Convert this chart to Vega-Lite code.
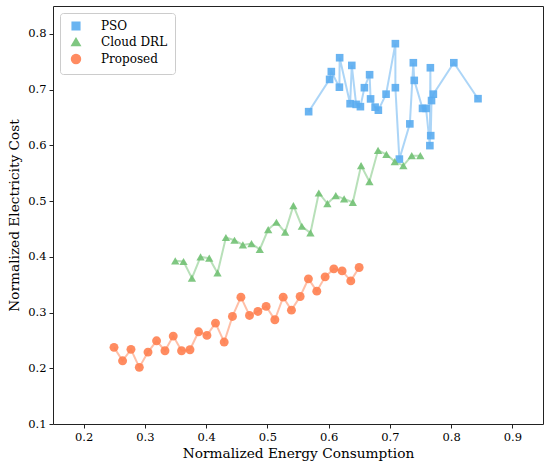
{
  "$schema": "https://vega.github.io/schema/vega-lite/v6.json",
  "autosize": {"type": "none"},
  "width": 490,
  "height": 418,
  "padding": {"left": 53, "top": 6, "right": 7, "bottom": 46},
  "config": {
    "font": "DejaVu Serif",
    "view": {"stroke": "#222", "strokeWidth": 1},
    "axis": {"grid": false, "domain": false, "tickColor": "#222", "tickSize": 4, "labelColor": "#000", "titleColor": "#000", "labelFontSize": 11.5, "titleFontSize": 13.7, "titleFontWeight": "normal", "labelPadding": 3},
    "legend": {"title": null, "orient": "top-left", "offset": 7, "padding": 7,
               "fillColor": "white", "strokeColor": "#ccc", "cornerRadius": 3,
               "labelFontSize": 12, "labelFontWeight": "normal", "labelColor": "#000", "symbolOffset": 3, "labelOffset": 19,
               "rowPadding": 2, "symbolSize": 60, "symbolOpacity": 0.9}
  },
  "data": {"values": [
    {"series": "PSO", "i": 1, "x": 0.5674, "y": 0.6604},
    {"series": "PSO", "i": 2, "x": 0.6016, "y": 0.7183},
    {"series": "PSO", "i": 3, "x": 0.6044, "y": 0.7323},
    {"series": "PSO", "i": 4, "x": 0.6176, "y": 0.7043},
    {"series": "PSO", "i": 5, "x": 0.6180, "y": 0.7572},
    {"series": "PSO", "i": 6, "x": 0.6351, "y": 0.6747},
    {"series": "PSO", "i": 7, "x": 0.6378, "y": 0.7434},
    {"series": "PSO", "i": 8, "x": 0.6449, "y": 0.6735},
    {"series": "PSO", "i": 9, "x": 0.6519, "y": 0.6694},
    {"series": "PSO", "i": 10, "x": 0.6584, "y": 0.7034},
    {"series": "PSO", "i": 11, "x": 0.6669, "y": 0.7267},
    {"series": "PSO", "i": 12, "x": 0.6685, "y": 0.6833},
    {"series": "PSO", "i": 13, "x": 0.6759, "y": 0.6685},
    {"series": "PSO", "i": 14, "x": 0.6812, "y": 0.6631},
    {"series": "PSO", "i": 15, "x": 0.6938, "y": 0.6918},
    {"series": "PSO", "i": 16, "x": 0.7090, "y": 0.7824},
    {"series": "PSO", "i": 17, "x": 0.7090, "y": 0.7034},
    {"series": "PSO", "i": 18, "x": 0.7155, "y": 0.5753},
    {"series": "PSO", "i": 19, "x": 0.7326, "y": 0.6385},
    {"series": "PSO", "i": 20, "x": 0.7383, "y": 0.7482},
    {"series": "PSO", "i": 21, "x": 0.7398, "y": 0.7165},
    {"series": "PSO", "i": 22, "x": 0.7533, "y": 0.6663},
    {"series": "PSO", "i": 23, "x": 0.7591, "y": 0.6663},
    {"series": "PSO", "i": 24, "x": 0.7653, "y": 0.5995},
    {"series": "PSO", "i": 25, "x": 0.7661, "y": 0.7392},
    {"series": "PSO", "i": 26, "x": 0.7667, "y": 0.6174},
    {"series": "PSO", "i": 27, "x": 0.7680, "y": 0.6803},
    {"series": "PSO", "i": 28, "x": 0.7710, "y": 0.6918},
    {"series": "PSO", "i": 29, "x": 0.8044, "y": 0.7482},
    {"series": "PSO", "i": 30, "x": 0.8439, "y": 0.6837},
    {"series": "Cloud DRL", "i": 1, "x": 0.3496, "y": 0.3927},
    {"series": "Cloud DRL", "i": 2, "x": 0.3631, "y": 0.3916},
    {"series": "Cloud DRL", "i": 3, "x": 0.3768, "y": 0.3616},
    {"series": "Cloud DRL", "i": 4, "x": 0.3909, "y": 0.3998},
    {"series": "Cloud DRL", "i": 5, "x": 0.4051, "y": 0.3975},
    {"series": "Cloud DRL", "i": 6, "x": 0.4186, "y": 0.3711},
    {"series": "Cloud DRL", "i": 7, "x": 0.4323, "y": 0.4346},
    {"series": "Cloud DRL", "i": 8, "x": 0.4463, "y": 0.4297},
    {"series": "Cloud DRL", "i": 9, "x": 0.4600, "y": 0.4213},
    {"series": "Cloud DRL", "i": 10, "x": 0.4741, "y": 0.4238},
    {"series": "Cloud DRL", "i": 11, "x": 0.4876, "y": 0.4131},
    {"series": "Cloud DRL", "i": 12, "x": 0.5013, "y": 0.4489},
    {"series": "Cloud DRL", "i": 13, "x": 0.5148, "y": 0.4620},
    {"series": "Cloud DRL", "i": 14, "x": 0.5290, "y": 0.4441},
    {"series": "Cloud DRL", "i": 15, "x": 0.5425, "y": 0.4919},
    {"series": "Cloud DRL", "i": 16, "x": 0.5563, "y": 0.4548},
    {"series": "Cloud DRL", "i": 17, "x": 0.5703, "y": 0.4428},
    {"series": "Cloud DRL", "i": 18, "x": 0.5840, "y": 0.5145},
    {"series": "Cloud DRL", "i": 19, "x": 0.5980, "y": 0.4955},
    {"series": "Cloud DRL", "i": 20, "x": 0.6117, "y": 0.5099},
    {"series": "Cloud DRL", "i": 21, "x": 0.6253, "y": 0.5038},
    {"series": "Cloud DRL", "i": 22, "x": 0.6395, "y": 0.4978},
    {"series": "Cloud DRL", "i": 23, "x": 0.6530, "y": 0.5636},
    {"series": "Cloud DRL", "i": 24, "x": 0.6666, "y": 0.5350},
    {"series": "Cloud DRL", "i": 25, "x": 0.6807, "y": 0.5910},
    {"series": "Cloud DRL", "i": 26, "x": 0.6943, "y": 0.5839},
    {"series": "Cloud DRL", "i": 27, "x": 0.7080, "y": 0.5708},
    {"series": "Cloud DRL", "i": 28, "x": 0.7220, "y": 0.5636},
    {"series": "Cloud DRL", "i": 29, "x": 0.7357, "y": 0.5815},
    {"series": "Cloud DRL", "i": 30, "x": 0.7497, "y": 0.5815},
    {"series": "Proposed", "i": 1, "x": 0.2496, "y": 0.2375},
    {"series": "Proposed", "i": 2, "x": 0.2636, "y": 0.2134},
    {"series": "Proposed", "i": 3, "x": 0.2773, "y": 0.2339},
    {"series": "Proposed", "i": 4, "x": 0.2909, "y": 0.2016},
    {"series": "Proposed", "i": 5, "x": 0.3051, "y": 0.2290},
    {"series": "Proposed", "i": 6, "x": 0.3191, "y": 0.2493},
    {"series": "Proposed", "i": 7, "x": 0.3328, "y": 0.2314},
    {"series": "Proposed", "i": 8, "x": 0.3463, "y": 0.2577},
    {"series": "Proposed", "i": 9, "x": 0.3599, "y": 0.2314},
    {"series": "Proposed", "i": 10, "x": 0.3736, "y": 0.2332},
    {"series": "Proposed", "i": 11, "x": 0.3876, "y": 0.2654},
    {"series": "Proposed", "i": 12, "x": 0.4013, "y": 0.2590},
    {"series": "Proposed", "i": 13, "x": 0.4153, "y": 0.2810},
    {"series": "Proposed", "i": 14, "x": 0.4295, "y": 0.2470},
    {"series": "Proposed", "i": 15, "x": 0.4430, "y": 0.2930},
    {"series": "Proposed", "i": 16, "x": 0.4568, "y": 0.3276},
    {"series": "Proposed", "i": 17, "x": 0.4708, "y": 0.2948},
    {"series": "Proposed", "i": 18, "x": 0.4845, "y": 0.3020},
    {"series": "Proposed", "i": 19, "x": 0.4980, "y": 0.3110},
    {"series": "Proposed", "i": 20, "x": 0.5122, "y": 0.2870},
    {"series": "Proposed", "i": 21, "x": 0.5258, "y": 0.3276},
    {"series": "Proposed", "i": 22, "x": 0.5393, "y": 0.3043},
    {"series": "Proposed", "i": 23, "x": 0.5535, "y": 0.3288},
    {"series": "Proposed", "i": 24, "x": 0.5670, "y": 0.3604},
    {"series": "Proposed", "i": 25, "x": 0.5807, "y": 0.3384},
    {"series": "Proposed", "i": 26, "x": 0.5943, "y": 0.3640},
    {"series": "Proposed", "i": 27, "x": 0.6085, "y": 0.3783},
    {"series": "Proposed", "i": 28, "x": 0.6220, "y": 0.3747},
    {"series": "Proposed", "i": 29, "x": 0.6362, "y": 0.3568},
    {"series": "Proposed", "i": 30, "x": 0.6498, "y": 0.3808}
  ]},
  "encoding": {
    "x": {"field": "x", "type": "quantitative", "title": "Normalized Energy Consumption",
          "scale": {"domain": [0.15, 0.95], "nice": false, "zero": false},
          "axis": {"values": [0.2, 0.3, 0.4, 0.5, 0.6, 0.7, 0.8, 0.9], "format": ".1f", "titlePadding": 4}},
    "y": {"field": "y", "type": "quantitative", "title": "Normalized Electricity Cost",
          "scale": {"domain": [0.1, 0.85], "nice": false, "zero": false},
          "axis": {"values": [0.1, 0.2, 0.3, 0.4, 0.5, 0.6, 0.7, 0.8], "format": ".1f", "titlePadding": 6}},
    "color": {"field": "series", "type": "nominal", "sort": ["PSO", "Cloud DRL", "Proposed"],
              "scale": {"domain": ["PSO", "Cloud DRL", "Proposed"], "range": ["#5AACF0", "#72C174", "#FF7F50"]}}
  },
  "layer": [
    {
      "mark": {"type": "line", "strokeWidth": 2, "opacity": 0.5},
      "encoding": {
        "order": {"field": "i", "type": "quantitative"}
      }
    },
    {
      "mark": {"type": "point", "filled": true, "opacity": 0.9},
      "encoding": {
        "shape": {"field": "series", "type": "nominal", "sort": ["PSO", "Cloud DRL", "Proposed"],
                  "scale": {"domain": ["PSO", "Cloud DRL", "Proposed"], "range": ["square", "triangle-up", "circle"]}},
        "size": {"field": "series", "type": "nominal", "sort": ["PSO", "Cloud DRL", "Proposed"],
                 "scale": {"domain": ["PSO", "Cloud DRL", "Proposed"], "range": [58, 80, 68]}}
      }
    }
  ]
}
